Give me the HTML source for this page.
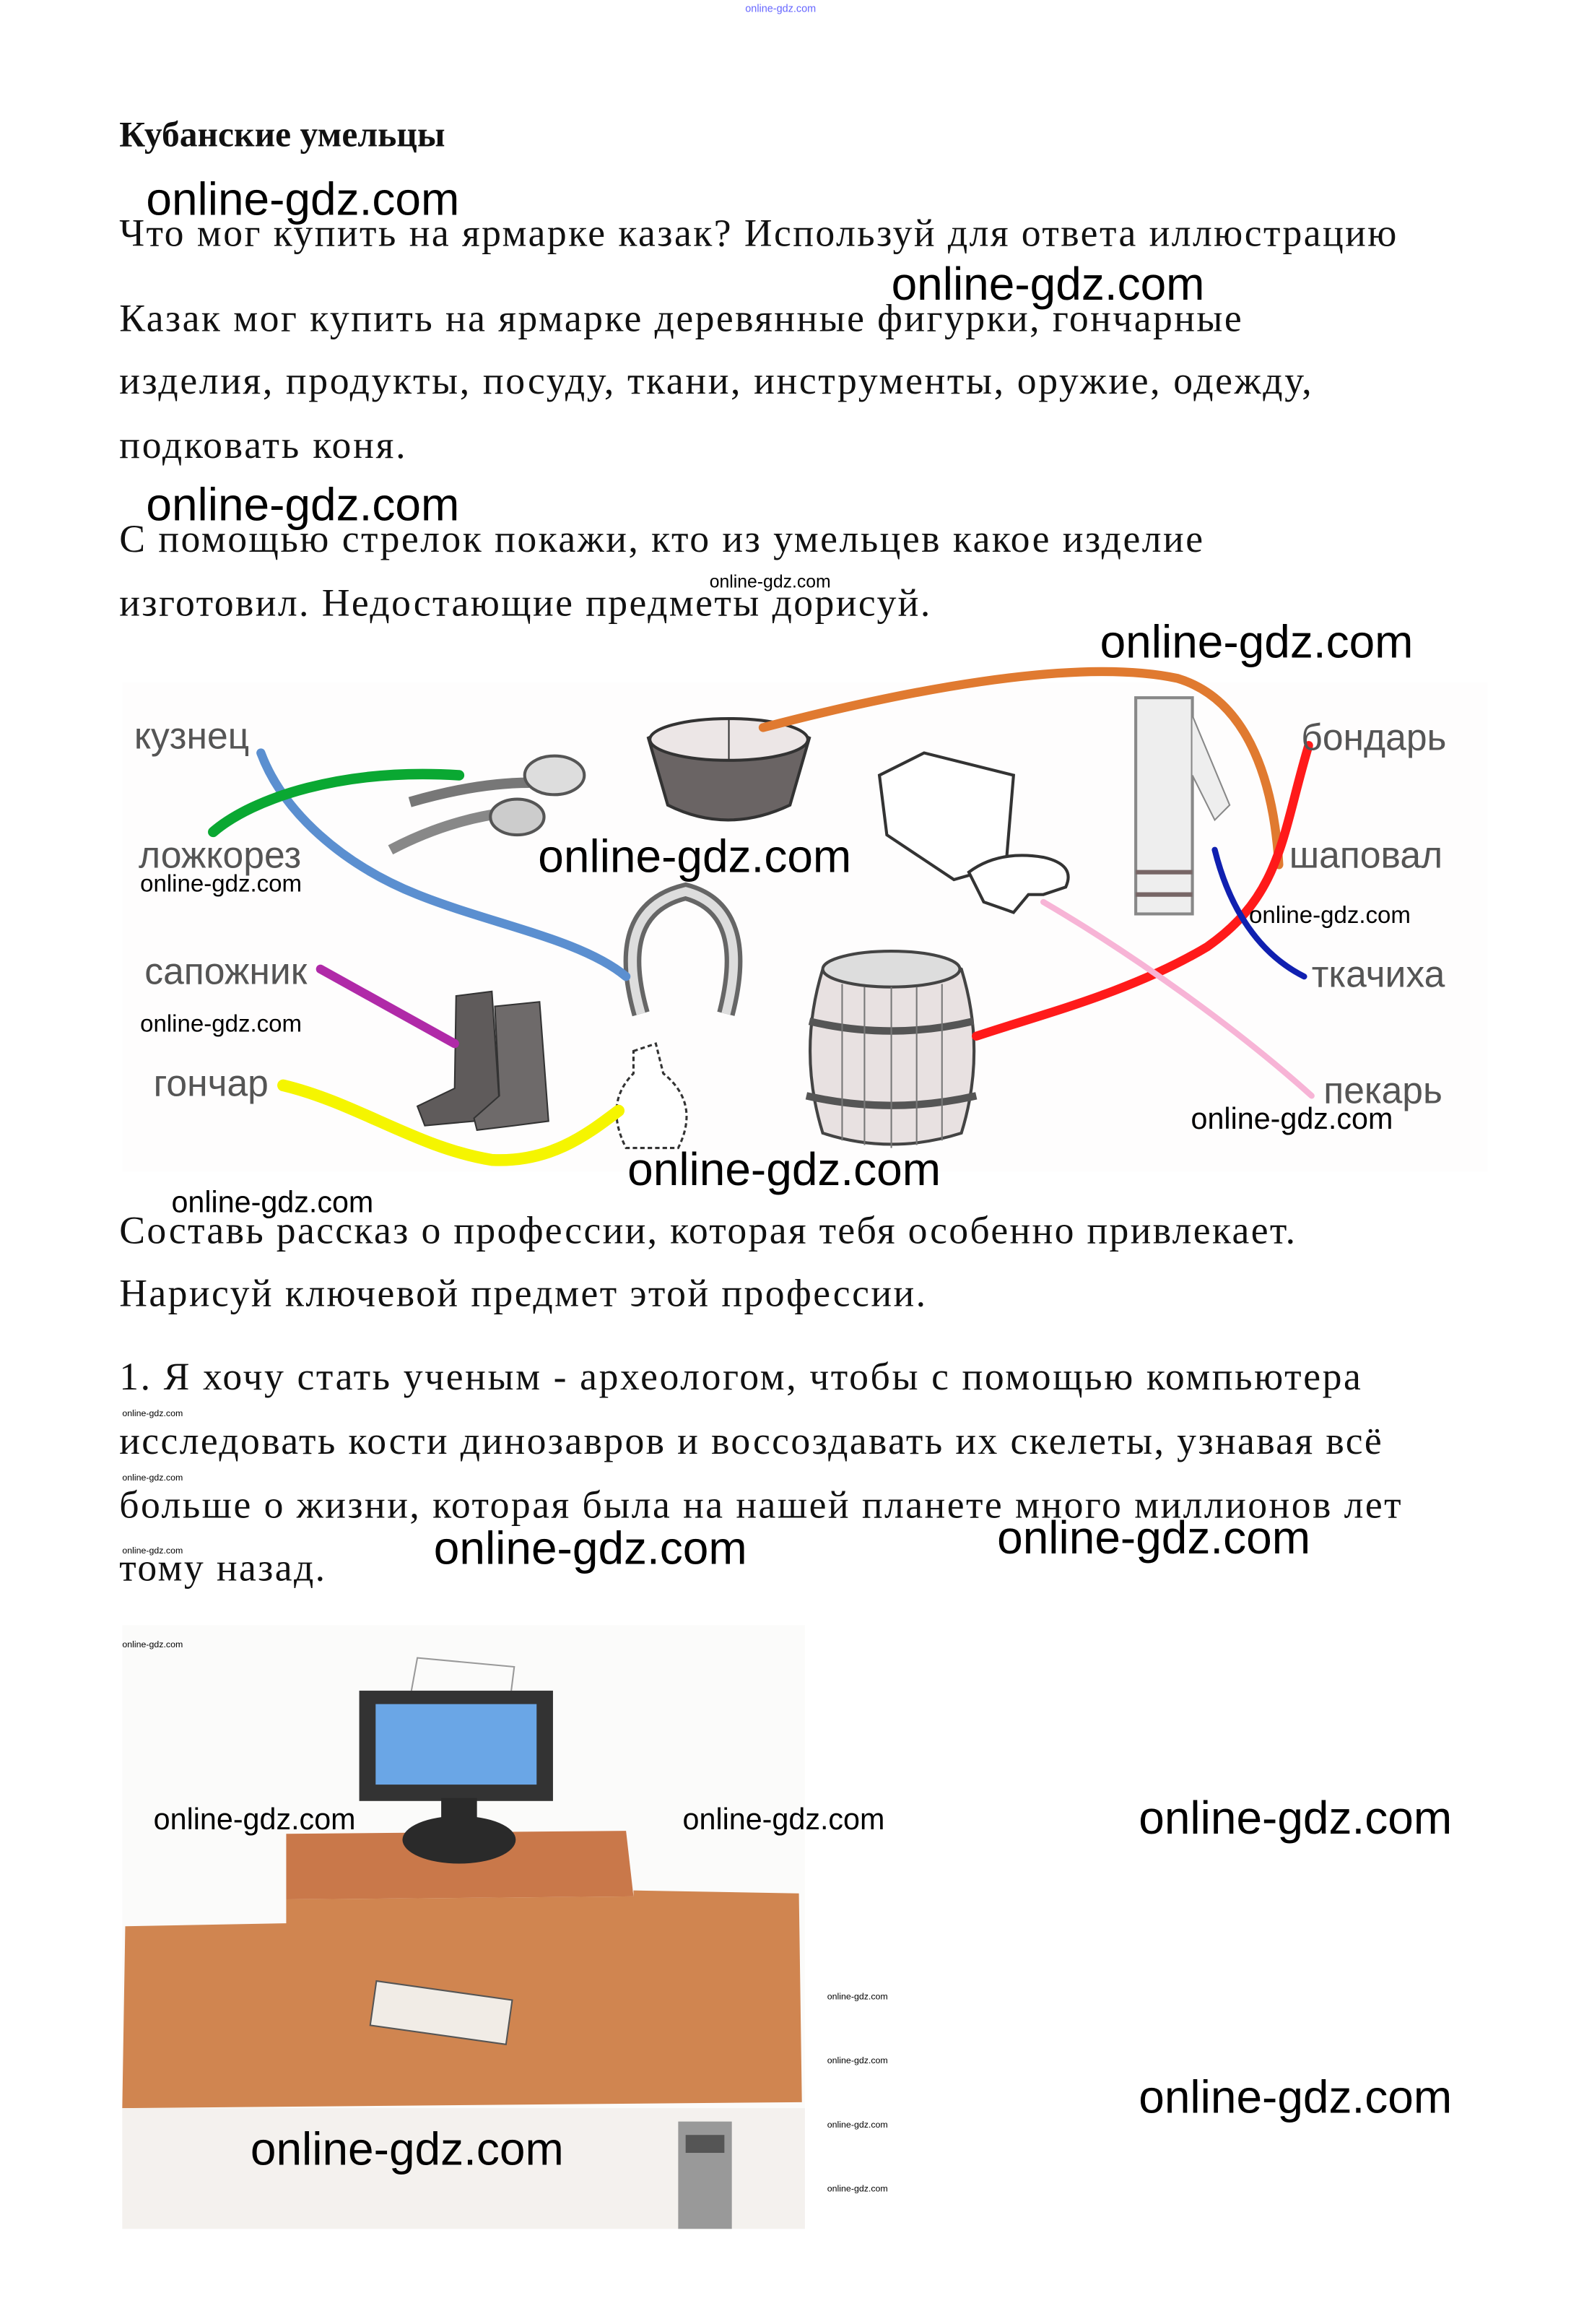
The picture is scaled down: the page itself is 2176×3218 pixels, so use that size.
<!DOCTYPE html>
<html><head><meta charset="utf-8"><style>
html,body{margin:0;padding:0;background:#fff}
svg{display:block}
.t{font-family:"Liberation Serif",serif;font-size:26px;fill:#111}
.w{font-family:"Liberation Sans",sans-serif;fill:#000}
.l{font-family:"Liberation Sans",sans-serif;font-size:25px;fill:#555}
</style></head><body>
<svg width="2176" height="3218" viewBox="0 0 1054 1558.8" xmlns="http://www.w3.org/2000/svg">
<rect width="1054" height="1559" fill="#fff"/>
<text x="500" y="8" class="w" font-size="7" style="fill:#66f">online-gdz.com</text>
<text x="80" y="98" class="t" font-weight="bold" style="font-size:24px">Кубанские умельцы</text>
<text x="98" y="144" class="w" font-size="31">online-gdz.com</text>
<text x="80" y="165" class="t" textLength="857">Что мог купить на ярмарке казак? Используй для ответа иллюстрацию</text>
<text x="598" y="201" class="w" font-size="31">online-gdz.com</text>
<text x="80" y="222" class="t" textLength="753">Казак мог купить на ярмарке деревянные фигурки, гончарные</text>
<text x="80" y="264" class="t" textLength="800">изделия, продукты, посуду, ткани, инструменты, оружие, одежду,</text>
<text x="80" y="307" class="t" textLength="192">подковать коня.</text>
<text x="98" y="349" class="w" font-size="31">online-gdz.com</text>
<text x="80" y="370" class="t" textLength="727">С помощью стрелок покажи, кто из умельцев какое изделие</text>
<text x="476" y="394" class="w" font-size="12">online-gdz.com</text>
<text x="80" y="413" class="t" textLength="544">изготовил. Недостающие предметы дорисуй.</text>
<text x="738" y="441" class="w" font-size="31">online-gdz.com</text>

<rect x="82" y="458" width="916" height="328" fill="#fefdfd"/>
<path d="M435,495 Q488,470 543,495 L530,540 Q488,560 448,540 Z" fill="#6a6464" stroke="#333" stroke-width="2"/>
<ellipse cx="489" cy="496" rx="53" ry="14" fill="#ece6e6" stroke="#333" stroke-width="2"/>
<line x1="489" y1="482" x2="489" y2="510" stroke="#333"/>
<path d="M275,538 Q320,525 355,525" stroke="#777" stroke-width="7" fill="none"/>
<path d="M262,570 Q300,550 340,545" stroke="#888" stroke-width="7" fill="none"/>
<ellipse cx="372" cy="520" rx="20" ry="13" fill="#ddd" stroke="#555" stroke-width="2"/>
<ellipse cx="347" cy="548" rx="18" ry="12" fill="#ccc" stroke="#555" stroke-width="2"/>
<path d="M430,680 Q410,610 460,598 Q505,610 487,680" stroke="#666" stroke-width="12" fill="none"/>
<path d="M430,680 Q410,610 460,598 Q505,610 487,680" stroke="#ddd" stroke-width="6" fill="none"/>
<path d="M590,520 L620,505 L680,520 L675,580 L640,590 L595,560 Z" fill="#fff" stroke="#333" stroke-width="2"/>
<path d="M650,585 Q670,570 700,575 Q722,580 715,595 L700,600 L690,600 L680,612 L660,605 Z" fill="#fff" stroke="#333" stroke-width="2"/>
<rect x="762" y="468" width="38" height="145" fill="#eee" stroke="#888" stroke-width="2"/>
<path d="M800,480 L825,540 L815,550 L800,520" fill="#eee" stroke="#888"/>
<line x1="762" y1="585" x2="800" y2="585" stroke="#766" stroke-width="3"/>
<line x1="762" y1="600" x2="800" y2="600" stroke="#766" stroke-width="3"/>
<path d="M552,650 Q598,630 645,650 Q662,705 645,760 Q598,775 552,760 Q535,705 552,650 Z" fill="#e8e1e1" stroke="#444" stroke-width="2"/>
<ellipse cx="598" cy="650" rx="46" ry="12" fill="#ddd" stroke="#444" stroke-width="2"/>
<path d="M543,685 Q598,698 653,685 M541,735 Q598,748 655,735" stroke="#555" stroke-width="5" fill="none"/>
<path d="M565,660 V765 M580,662 V768 M598,662 V770 M615,662 V768 M632,660 V765" stroke="#777"/>
<path d="M306,668 L330,665 L335,740 L318,752 L285,755 L280,742 L305,730 Z" fill="#5f5b5b" stroke="#333"/>
<path d="M332,675 L362,672 L368,752 L345,755 L320,758 L318,750 L335,735 Z" fill="#6e6a6a" stroke="#333"/>
<path d="M425,705 L440,700 L445,720 Q470,740 455,770 L420,770 Q405,740 425,720 Z" fill="#fff" stroke="#333" stroke-width="1.5" stroke-dasharray="3 2"/>

<g fill="none" stroke-linecap="round" stroke-width="6">
<path d="M175,505 C190,545 230,580 280,600 C330,620 390,630 420,655" stroke="#5b8fd0"/>
<path d="M143,558 C170,535 230,515 308,520" stroke="#0aa832" stroke-width="7"/>
<path d="M512,488 C600,465 720,440 790,455 C840,470 855,530 858,580" stroke="#e07a30"/>
<path d="M878,500 C860,560 860,600 810,635 C760,665 700,680 655,695" stroke="#ff1a1a"/>
<path d="M815,570 C825,610 845,640 875,655" stroke="#1020b0" stroke-width="4"/>
<path d="M700,605 C760,640 830,690 880,735" stroke="#f7b4d6" stroke-width="4"/>
<path d="M215,650 L305,700" stroke="#b02aa8"/>
<path d="M190,728 C240,740 280,770 330,778 C370,780 395,760 415,745" stroke="#f5f500" stroke-width="8"/>
</g>

<text x="90" y="502" class="l">кузнец</text>
<text x="93" y="582" class="l">ложкорез</text>
<text x="97" y="660" class="l">сапожник</text>
<text x="103" y="735" class="l">гончар</text>
<text x="873" y="503" class="l">бондарь</text>
<text x="865" y="582" class="l">шаповал</text>
<text x="880" y="662" class="l">ткачиха</text>
<text x="888" y="740" class="l">пекарь</text>
<text x="94" y="598" class="w" font-size="16">online-gdz.com</text>
<text x="94" y="692" class="w" font-size="16">online-gdz.com</text>
<text x="838" y="619" class="w" font-size="16">online-gdz.com</text>
<text x="799" y="757" class="w" font-size="20">online-gdz.com</text>
<text x="361" y="585" class="w" font-size="31">online-gdz.com</text>
<text x="421" y="795" class="w" font-size="31">online-gdz.com</text>

<text x="115" y="813" class="w" font-size="20">online-gdz.com</text>
<text x="80" y="834" class="t" textLength="789">Составь рассказ о профессии, которая тебя особенно привлекает.</text>
<text x="80" y="876" class="t" textLength="541">Нарисуй ключевой предмет этой профессии.</text>
<text x="80" y="932" class="t" textLength="833">1. Я хочу стать ученым - археологом, чтобы с помощью компьютера</text>
<text x="82" y="950" class="w" font-size="6">online-gdz.com</text>
<text x="80" y="975" class="t" textLength="847">исследовать кости динозавров и воссоздавать их скелеты, узнавая всё</text>
<text x="82" y="993" class="w" font-size="6">online-gdz.com</text>
<text x="80" y="1018" class="t" textLength="860">больше о жизни, которая была на нашей планете много миллионов лет</text>
<text x="82" y="1042" class="w" font-size="6">online-gdz.com</text>
<text x="80" y="1060" class="t" textLength="138">тому назад.</text>
<text x="291" y="1049" class="w" font-size="31">online-gdz.com</text>
<text x="669" y="1042" class="w" font-size="31">online-gdz.com</text>

<!-- drawing -->
<rect x="82" y="1090" width="458" height="405" fill="#fbfbfa"/>
<path d="M276,1134 L280,1112 L345,1118 L343,1134" stroke="#999" fill="none"/>
<path d="M192,1230 L420,1228 L425,1272 L192,1274 Z" fill="#c9784a"/>
<path d="M84,1292 L192,1290 L192,1274 L425,1272 L425,1268 L536,1270 L538,1410 L82,1414 Z" fill="#d08550"/>
<rect x="241" y="1134" width="130" height="74" fill="#333"/>
<rect x="252" y="1143" width="108" height="54" fill="#6aa6e6"/>
<rect x="296" y="1206" width="24" height="24" fill="#2a2a2a"/>
<ellipse cx="308" cy="1234" rx="38" ry="16" fill="#2a2a2a"/>
<rect x="250" y="1335" width="92" height="30" fill="#f1ece6" stroke="#555" transform="rotate(8 296 1350)"/>
<rect x="82" y="1414" width="458" height="81" fill="#f4f1ee"/>
<rect x="455" y="1423" width="36" height="72" fill="#999"/>
<rect x="460" y="1432" width="26" height="12" fill="#555"/>
<text x="82" y="1105" class="w" font-size="6">online-gdz.com</text>
<text x="103" y="1227" class="w" font-size="20">online-gdz.com</text>
<text x="458" y="1227" class="w" font-size="20">online-gdz.com</text>
<text x="764" y="1230" class="w" font-size="31">online-gdz.com</text>
<text x="764" y="1417" class="w" font-size="31">online-gdz.com</text>
<text x="168" y="1452" class="w" font-size="31">online-gdz.com</text>
<text x="555" y="1341" class="w" font-size="6">online-gdz.com</text>
<text x="555" y="1384" class="w" font-size="6">online-gdz.com</text>
<text x="555" y="1427" class="w" font-size="6">online-gdz.com</text>
<text x="555" y="1470" class="w" font-size="6">online-gdz.com</text>
</svg>
</body></html>
